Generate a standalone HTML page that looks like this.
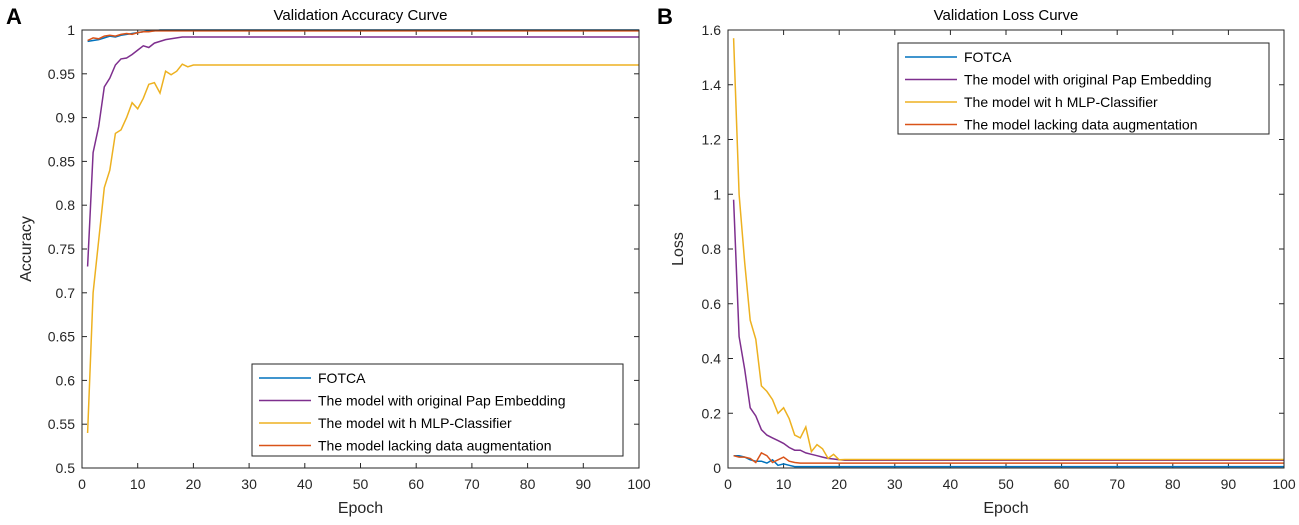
<!DOCTYPE html>
<html><head><meta charset="utf-8"><style>
body{margin:0;background:#fff;}
svg{display:block;font-family:"Liberation Sans",Arial,sans-serif;}
</style></head><body>
<svg id="fig" width="1299" height="525"></svg>
<script>
const epochs=[];for(let i=1;i<=100;i++)epochs.push(i);
const seriesNames=["FOTCA","The model with original Pap Embedding","The model wit h MLP-Classifier","The model lacking data augmentation"];
const colors=["#0072BD","#7E2F8E","#EDB120","#D95319"];
const accHead=[
[0.987,0.988,0.989,0.991,0.993,0.992,0.994,0.995,0.996,0.997,0.998,0.999,0.999,1.0,1.0],
[0.73,0.86,0.89,0.935,0.945,0.96,0.967,0.968,0.972,0.977,0.982,0.98,0.985,0.987,0.989,0.99,0.991,0.992],
[0.54,0.70,0.76,0.82,0.84,0.882,0.886,0.90,0.917,0.91,0.922,0.938,0.94,0.928,0.953,0.949,0.953,0.961,0.958,0.96],
[0.988,0.991,0.99,0.993,0.994,0.993,0.995,0.996,0.995,0.997,0.998,0.998,0.999,0.999]];
const accTail=[1.0,0.992,0.96,0.999];
const lossHead=[
[0.045,0.045,0.04,0.03,0.025,0.025,0.018,0.03,0.01,0.015,0.01,0.005],
[0.98,0.48,0.36,0.22,0.19,0.14,0.12,0.11,0.10,0.09,0.075,0.065,0.065,0.055,0.05,0.045,0.04,0.035,0.033,0.03],
[1.57,1.0,0.75,0.54,0.47,0.30,0.28,0.25,0.20,0.22,0.18,0.12,0.11,0.15,0.06,0.085,0.07,0.035,0.05,0.03],
[0.045,0.04,0.04,0.035,0.02,0.055,0.045,0.02,0.03,0.04,0.025,0.02]];
const lossTail=[0.005,0.028,0.031,0.018];
function full(head,tail){return epochs.map((e,i)=>i<head.length?head[i]:tail);}

const NS="http://www.w3.org/2000/svg";
const svg=document.getElementById('fig');
function mk(tag,attrs,parent){const el=document.createElementNS(NS,tag);for(const k in attrs)el.setAttribute(k,attrs[k]);(parent||svg).appendChild(el);return el;}

function panel(o){
  const g=mk('g',{});
  
  
  const sx=v=>o.x0+(v-0)/100*(o.x1-o.x0);
  const sy=v=>o.y1-(v-o.ymin)/(o.ymax-o.ymin)*(o.y1-o.y0);
  mk('rect',{x:o.x0,y:o.y0,width:o.x1-o.x0,height:o.y1-o.y0,fill:'#fff',stroke:'none'},g);
  // x ticks
  for(let t=0;t<=100;t+=10){
    const X=sx(t);
    mk('line',{x1:X,x2:X,y1:o.y1,y2:o.y1-5,stroke:'#262626'},g);
    mk('line',{x1:X,x2:X,y1:o.y0,y2:o.y0+5,stroke:'#262626'},g);
    const tx=mk('text',{x:X,y:o.y1+21,'text-anchor':'middle','font-size':14,fill:'#262626'},g);tx.textContent=t;
    
    
  }
  o.yticks.forEach(t=>{
    const Y=sy(t);
    mk('line',{x1:o.x0,x2:o.x0+5,y1:Y,y2:Y,stroke:'#262626'},g);
    mk('line',{x1:o.x1,x2:o.x1-5,y1:Y,y2:Y,stroke:'#262626'},g);
    const tx=mk('text',{x:o.x0-7,y:Y+5,'text-anchor':'end','font-size':14,fill:'#262626'},g);tx.textContent=o.fmt(t);
    
    
  });
  o.series.forEach((s,i)=>{
    const d=s.map((v,j)=>(j?'L':'M')+sx(epochs[j]).toFixed(1)+','+sy(v).toFixed(1)).join('');
    const p=mk('path',{d:d,fill:'none',stroke:colors[i],'stroke-width':1.5},g);
    
    
  });
  mk('rect',{x:o.x0,y:o.y0,width:o.x1-o.x0,height:o.y1-o.y0,fill:'none',stroke:'#262626'},g);
  const ti=mk('text',{x:(o.x0+o.x1)/2,y:o.y0-10,'text-anchor':'middle','font-size':15,fill:'#000'},g);ti.textContent=o.title;
  
  
  const xl=mk('text',{x:(o.x0+o.x1)/2,y:o.y1+45,'text-anchor':'middle','font-size':16,fill:'#262626'},g);xl.textContent='Epoch';
  
  
  const yx=o.ylx, yy=(o.y0+o.y1)/2;
  const yl=mk('text',{x:yx,y:yy,'text-anchor':'middle','font-size':16,fill:'#262626',transform:'rotate(-90 '+yx+' '+yy+')'},g);yl.textContent=o.ylabel;
  
  
  const L=o.leg;
  const lg=mk('g',{},g);
  
  
  mk('rect',{x:L.x,y:L.y,width:L.w,height:L.h,fill:'#fff',stroke:'#262626'},lg);
  seriesNames.forEach((n,i)=>{
    const Y=L.y+14+i*22.5;
    mk('line',{x1:L.x+7,x2:L.x+59,y1:Y,y2:Y,stroke:colors[i],'stroke-width':1.5},lg);
    const t=mk('text',{x:L.x+66,y:Y+5,'font-size':14,fill:'#000'},lg);t.textContent=n;
    
    
  });
  const lab=mk('text',{x:o.labx,y:24,'font-size':22,'font-weight':'bold',fill:'#000'},g);lab.textContent=o.letter;
  
  
}
panel({id:'accuracy-panel',x0:82,x1:639,y0:30,y1:468,ymin:0.5,ymax:1.0,
  yticks:[0.5,0.55,0.6,0.65,0.7,0.75,0.8,0.85,0.9,0.95,1],fmt:t=>String(+t.toFixed(2)),
  series:accHead.map((h,i)=>full(h,accTail[i])),title:'Validation Accuracy Curve',ylabel:'Accuracy',ylx:31,
  leg:{x:252,y:364,w:371,h:92},letter:'A',labx:6});
panel({id:'loss-panel',x0:728,x1:1284,y0:30,y1:468,ymin:0,ymax:1.6,
  yticks:[0,0.2,0.4,0.6,0.8,1,1.2,1.4,1.6],fmt:t=>String(+t.toFixed(1)),
  series:lossHead.map((h,i)=>full(h,lossTail[i])),title:'Validation Loss Curve',ylabel:'Loss',ylx:683,
  leg:{x:898,y:43,w:371,h:91},letter:'B',labx:657});
</script>
</body></html>
